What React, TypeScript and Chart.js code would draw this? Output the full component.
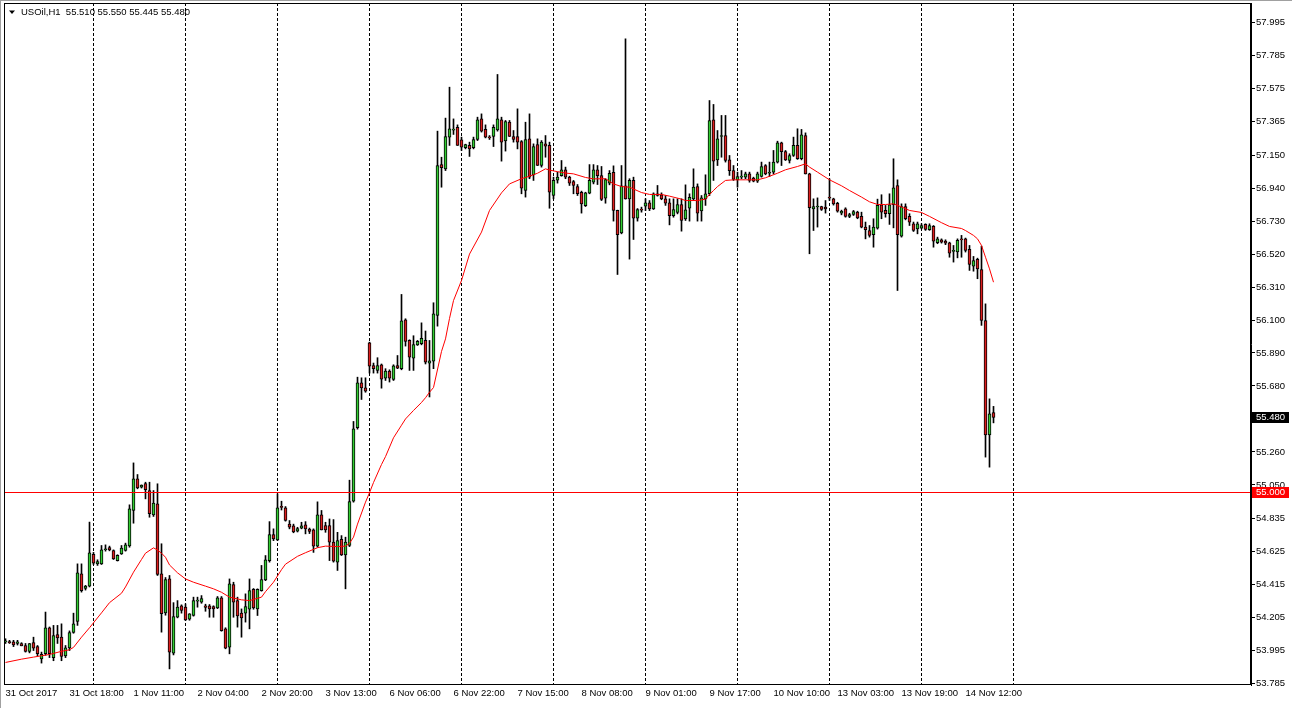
import React, { useEffect, useRef } from "react";
import { Chart, registerables } from "chart.js";
Chart.register(...registerables);

const symbolTitle = "USOil,H1";

const opens = [
  54.05,54.05,54.05,54.04,54.04,54.027,53.99,54.045,54.02,53.942,
  53.975,54.14,53.95,54.097,54.08,53.96,54.012,54.11,54.18,54.483,
  54.39,54.405,54.607,54.547,54.547,54.637,54.651,54.632,54.568,54.611,
  54.632,54.662,54.887,55.089,55.036,55.059,55.014,54.859,54.929,54.484,
  54.235,54.452,53.978,54.207,54.28,54.271,54.194,54.218,54.31,54.303,
  54.28,54.28,54.275,54.267,54.33,54.133,54.016,54.415,54.313,54.233,
  54.233,54.258,54.385,54.26,54.377,54.445,54.568,54.734,54.7,54.91,
  54.904,54.8,54.79,54.755,54.774,54.795,54.768,54.763,54.66,54.859,
  54.791,54.791,54.685,54.558,54.704,54.604,54.664,54.947,55.414,55.70,
  55.668,55.955,55.81,55.779,55.815,55.73,55.775,55.722,55.81,55.79,
  56.102,55.97,55.857,55.942,55.949,55.97,55.826,55.838,56.129,57.09,
  57.063,57.265,57.31,57.328,57.248,57.197,57.212,57.197,57.25,57.381,
  57.314,57.265,57.269,57.311,57.375,57.24,57.36,57.269,57.269,57.237,
  56.925,57.254,57.025,57.218,57.084,57.222,57.212,56.893,56.99,57.02,
  57.057,57.01,56.982,56.95,56.914,56.829,56.908,56.978,57.057,57.02,
  56.876,56.972,57.04,56.798,56.655,56.955,56.872,56.989,56.749,56.802,
  56.825,56.846,56.808,56.904,56.897,56.872,56.846,56.764,56.785,56.836,
  56.744,56.812,56.872,56.95,56.795,56.872,56.904,57.375,57.12,57.269,
  57.275,57.12,57.052,56.993,57.01,57.01,57.031,57.004,56.985,57.014,
  57.084,57.035,57.042,57.106,57.229,57.173,57.116,57.148,57.212,57.127,
  57.275,57.031,56.808,56.82,56.823,56.819,56.878,56.872,56.844,56.781,
  56.808,56.76,56.772,56.787,56.76,56.692,56.67,56.643,56.685,56.834,
  56.798,56.777,56.834,56.957,56.634,56.823,56.76,56.713,56.681,56.685,
  56.709,56.675,56.696,56.592,56.611,56.603,56.592,56.537,56.533,56.617,
  56.617,56.55,56.443,56.486,56.422,56.097,55.369,55.51
];

const highs = [
  54.07,54.06,54.06,54.06,54.045,54.04,54.04,54.08,54.027,53.985,
  54.24,54.145,54.155,54.155,54.165,54.027,54.12,54.233,54.547,54.547,
  54.41,54.813,54.62,54.573,54.664,54.668,54.66,54.636,54.605,54.664,
  54.679,54.923,55.19,55.116,55.05,55.067,55.067,55.014,55.057,54.675,
  54.46,54.473,54.30,54.313,54.286,54.292,54.23,54.335,54.335,54.345,
  54.29,54.288,54.28,54.339,54.339,54.14,54.451,54.43,54.335,54.26,
  54.356,54.451,54.39,54.388,54.537,54.6,54.816,54.77,54.993,54.946,
  54.912,54.823,54.8,54.78,54.812,54.816,54.775,54.77,54.942,54.887,
  54.812,54.833,54.829,54.748,54.727,54.717,55.08,55.454,55.736,55.732,
  55.732,55.959,55.826,55.86,55.82,55.79,55.783,55.815,55.874,56.263,
  56.108,55.974,56.0,55.97,56.082,56.03,55.97,56.21,57.303,57.137,
  57.386,57.583,57.381,57.343,57.265,57.22,57.233,57.265,57.392,57.413,
  57.343,57.275,57.343,57.664,57.392,57.371,57.371,57.307,57.445,57.243,
  57.36,57.413,57.222,57.254,57.243,57.275,57.233,57.01,57.042,57.116,
  57.074,57.016,56.989,56.963,56.921,56.914,57.09,57.09,57.084,57.078,
  57.0,57.052,57.082,56.8,57.084,57.891,57.0,57.01,56.81,56.819,
  56.872,56.861,56.91,56.957,56.91,56.893,56.872,56.872,56.872,56.872,
  56.961,56.904,57.063,56.967,56.893,57.025,57.498,57.473,57.307,57.403,
  57.403,57.148,57.084,57.042,57.052,57.042,57.042,57.01,57.042,57.106,
  57.09,57.106,57.18,57.239,57.233,57.18,57.159,57.265,57.318,57.314,
  57.292,57.035,56.872,56.878,56.825,56.861,56.999,56.876,56.85,56.8,
  56.815,56.78,56.798,56.793,56.787,56.724,56.702,56.745,56.87,56.898,
  56.83,56.904,57.127,56.993,56.84,56.84,56.777,56.724,56.724,56.713,
  56.713,56.713,56.702,56.628,56.617,56.611,56.596,56.575,56.617,56.639,
  56.622,56.575,56.505,56.494,56.571,56.203,55.598,55.55
];

const lows = [
  54.04,54.04,54.02,54.03,54.025,53.985,53.98,53.995,53.96,53.915,
  53.965,53.95,53.93,54.04,53.93,53.95,53.995,54.105,54.155,54.367,
  54.38,54.40,54.543,54.537,54.543,54.628,54.63,54.575,54.565,54.607,
  54.628,54.653,54.806,55.025,55.03,54.961,54.844,54.849,54.473,54.112,
  54.22,53.878,53.967,54.203,54.233,54.186,54.188,54.214,54.271,54.296,
  54.245,54.207,54.207,54.262,54.118,54.006,53.974,54.207,54.144,54.08,
  54.176,54.133,54.258,54.218,54.373,54.44,54.558,54.695,54.695,54.89,
  54.819,54.77,54.745,54.75,54.77,54.738,54.74,54.62,54.653,54.763,
  54.748,54.568,54.558,54.505,54.6,54.388,54.657,54.94,55.405,55.594,
  55.64,55.762,55.762,55.762,55.666,55.715,55.705,55.715,55.79,55.783,
  55.934,55.779,55.779,55.938,55.942,55.82,55.61,55.79,56.061,56.946,
  57.052,57.212,57.282,57.212,57.18,57.19,57.142,57.19,57.243,57.297,
  57.26,57.25,57.205,57.303,57.112,57.176,57.269,57.233,57.19,56.904,
  56.883,57.0,56.989,57.084,57.074,57.137,56.812,56.872,56.972,57.016,
  57.0,56.957,56.904,56.893,56.781,56.823,56.904,56.967,56.963,56.861,
  56.844,56.961,56.73,56.39,56.649,56.87,56.488,56.613,56.73,56.787,
  56.797,56.797,56.804,56.889,56.866,56.83,56.706,56.755,56.776,56.666,
  56.734,56.73,56.861,56.73,56.73,56.83,56.893,56.989,57.084,57.137,
  57.106,57.021,56.989,56.946,57.0,57.0,56.978,56.98,56.976,57.01,
  57.025,57.014,57.031,57.1,57.084,57.116,57.1,57.142,57.123,57.12,
  57.03,56.522,56.67,56.692,56.798,56.781,56.862,56.832,56.787,56.77,
  56.755,56.752,56.766,56.745,56.687,56.617,56.628,56.564,56.679,56.745,
  56.755,56.709,56.687,56.288,56.628,56.738,56.702,56.664,56.649,56.68,
  56.671,56.671,56.564,56.586,56.59,56.58,56.5,56.469,56.496,56.5,
  56.533,56.416,56.411,56.363,56.066,55.227,55.163,55.445
];

const closes = [
  54.05,54.045,54.03,54.05,54.025,53.99,54.04,54.01,53.975,53.97,
  54.14,53.975,54.09,54.076,53.957,54.012,54.11,54.165,54.49,54.377,
  54.405,54.617,54.551,54.562,54.636,54.64,54.636,54.579,54.602,54.647,
  54.668,54.898,55.089,55.031,55.048,55.02,54.866,54.934,54.479,54.229,
  54.447,53.985,54.211,54.271,54.25,54.19,54.228,54.313,54.31,54.326,
  54.27,54.26,54.26,54.33,54.122,54.01,54.42,54.303,54.216,54.203,
  54.275,54.377,54.267,54.385,54.447,54.572,54.734,54.706,54.904,54.907,
  54.823,54.78,54.75,54.772,54.79,54.77,54.753,54.66,54.859,54.763,
  54.763,54.685,54.564,54.695,54.604,54.685,54.944,55.407,55.70,55.668,
  55.647,55.806,55.79,55.81,55.724,55.775,55.73,55.808,55.794,56.095,
  55.964,55.864,55.944,55.964,55.983,55.832,55.84,56.14,57.084,57.07,
  57.269,57.318,57.314,57.212,57.201,57.218,57.19,57.25,57.375,57.303,
  57.265,57.26,57.328,57.381,57.233,57.364,57.269,57.25,57.233,56.94,
  57.25,57.01,57.205,57.084,57.233,57.207,56.914,56.989,57.01,57.057,
  57.01,56.972,56.957,56.904,56.84,56.91,56.989,57.057,57.02,56.868,
  56.995,57.035,56.798,56.643,56.955,56.872,56.989,56.749,56.804,56.80,
  56.846,56.808,56.904,56.893,56.872,56.844,56.764,56.804,56.836,56.734,
  56.802,56.882,56.946,56.781,56.878,56.904,57.371,57.112,57.254,57.27,
  57.116,57.052,56.995,57.014,57.01,57.031,56.989,56.985,57.031,57.078,
  57.031,57.04,57.106,57.229,57.173,57.12,57.148,57.212,57.127,57.28,
  57.031,56.815,56.823,56.82,56.804,56.808,56.876,56.84,56.793,56.793,
  56.76,56.772,56.791,56.751,56.692,56.675,56.639,56.692,56.83,56.787,
  56.777,56.834,56.942,56.643,56.823,56.745,56.724,56.671,56.713,56.702,
  56.677,56.702,56.603,56.617,56.596,56.59,56.526,56.537,56.607,56.611,
  56.543,56.454,56.479,56.426,56.097,55.369,55.503,55.48
];

const maBars = [
  0,4,7,11,14,16,17,19,21,24,26,29,30,32,34,35,37,38,39,40,41,43,45,47,50,52,54,56,59,61,
  64,65,67,69,70,73,75,78,80,83,85,86,87,88,90,91,92,94,95,97,99,100,102,104,105,106,107,
  109,110,111,112,114,116,119,121,124,126,129,131,133,135,136,138,140,142,145,147,150,152,
  154,156,159,161,164,166,169,170,173,175,176,177,178,180,182,185,188,190,193,195,198,200,
  201,203,206,209,211,214,216,218,220,222,224,226,229,231,234,236,239,240,242,243,244,245,246,247
];
const maValues = [
  53.919,53.94,53.953,53.97,53.99,54.0,54.015,54.08,54.14,54.235,54.3,54.36,54.4,54.494,54.575,54.615,54.649,54.635,54.615,54.589,54.54,54.49,54.451,54.43,54.405,54.388,54.366,54.335,54.318,54.313,
  54.335,54.37,54.43,54.51,54.545,54.595,54.618,54.65,54.66,54.657,54.66,54.678,54.717,54.8,54.94,55.0,55.065,55.18,55.23,55.35,55.43,55.47,55.524,55.575,55.605,55.64,55.67,
  55.9,55.98,56.11,56.224,56.352,56.52,56.66,56.798,56.91,56.967,57.0,57.016,57.035,57.063,57.055,57.045,57.036,57.031,57.008,56.999,57.0,56.967,
  56.95,56.946,56.912,56.9,56.9,56.889,56.87,56.861,56.861,56.87,56.9,56.925,56.95,56.989,56.993,56.993,56.993,57.006,57.035,57.057,57.078,57.095,
  57.074,57.042,56.993,56.955,56.925,56.883,56.853,56.836,56.836,56.84,56.82,56.798,56.785,56.76,56.72,56.696,56.683,56.67,56.639,56.617,56.575,56.5,56.426,56.341
];

const labelBars = [0,16,32,48,64,80,96,112,128,144,160,176,192,208,224,240];
const timeLabels = [
  "31 Oct 2017","31 Oct 18:00","1 Nov 11:00","2 Nov 04:00","2 Nov 20:00","3 Nov 13:00",
  "6 Nov 06:00","6 Nov 22:00","7 Nov 15:00","8 Nov 08:00","9 Nov 01:00","9 Nov 17:00",
  "10 Nov 10:00","13 Nov 03:00","13 Nov 19:00","14 Nov 12:00"
];
const separatorBars = [22,45,68,91,114,137,160,183,206,229,252];
const yTickValues = [
  57.995,57.785,57.575,57.365,57.150,56.940,56.730,56.520,56.310,56.100,55.890,
  55.680,55.470,55.260,55.050,54.835,54.625,54.415,54.205,53.995,53.785
];
const levelPrice = 55.0;

const GREEN = "#32cd32";
const RED = "#dc1e1e";
const FONT = '"Liberation Sans", Arial, sans-serif';

const mtPlugin = {
  id: "mtDecor",
  beforeDraw(chart: any) {
    const { ctx, width, height } = chart;
    ctx.save();
    ctx.fillStyle = "#ffffff";
    ctx.fillRect(0, 0, width, height);
    ctx.fillStyle = "#a0a0a0";
    ctx.fillRect(0, 0, width, 1);
    ctx.fillRect(0, 0, 1, height);
    ctx.restore();
  },
  beforeDatasetsDraw(chart: any) {
    const { ctx, chartArea } = chart;
    const x = chart.scales.x;
    ctx.save();
    ctx.strokeStyle = "#000000";
    ctx.lineWidth = 1;
    ctx.setLineDash([3, 2]);
    separatorBars.forEach((b) => {
      const px = Math.floor(x.getPixelForValue(b)) + 0.5;
      if (px < chartArea.left || px > chartArea.right) return;
      ctx.beginPath();
      ctx.moveTo(px, chartArea.top);
      ctx.lineTo(px, chartArea.bottom);
      ctx.stroke();
    });
    ctx.restore();
  },
  afterDatasetsDraw(chart: any) {
    const { ctx, chartArea } = chart;
    const y = chart.scales.y;
    const py = Math.floor(y.getPixelForValue(levelPrice));
    ctx.save();
    ctx.setLineDash([]);
    ctx.fillStyle = "#ff0000";
    ctx.fillRect(chartArea.left, py, chartArea.right - chartArea.left, 1);
    ctx.restore();
  },
  afterDraw(chart: any) {
    const { ctx, chartArea } = chart;
    const y = chart.scales.y;
    ctx.save();
    ctx.setLineDash([]);
    // frame
    ctx.strokeStyle = "#000000";
    ctx.lineWidth = 1;
    ctx.strokeRect(chartArea.left + 0.5, chartArea.top + 0.5, chartArea.right - chartArea.left - 1, chartArea.bottom - chartArea.top - 1);
    // price boxes
    ctx.font = `9.5px ${FONT}`;
    ctx.textBaseline = "middle";
    ctx.textAlign = "left";
    const box = (value: number, bg: string) => {
      const yc = Math.floor(y.getPixelForValue(value));
      ctx.fillStyle = bg;
      ctx.fillRect(chartArea.right + 1, yc - 5, 37, 11);
      ctx.fillStyle = "#ffffff";
      ctx.fillText(value.toFixed(3), chartArea.right + 5, yc + 0.5);
    };
    box(levelPrice, "#ff0000");
    box(closes[closes.length - 1], "#000000");
    // title
    const n = opens.length - 1;
    ctx.fillStyle = "#000000";
    ctx.beginPath();
    ctx.moveTo(chartArea.left + 5, chartArea.top + 7.5);
    ctx.lineTo(chartArea.left + 11, chartArea.top + 7.5);
    ctx.lineTo(chartArea.left + 8, chartArea.top + 11);
    ctx.closePath();
    ctx.fill();
    const title = `${symbolTitle}  ${opens[n].toFixed(3)} ${highs[n].toFixed(3)} ${lows[n].toFixed(3)} ${closes[n].toFixed(3)}`;
    ctx.fillText(title, chartArea.left + 17, chartArea.top + 9.5);
    ctx.restore();
  },
};

export default function App() {
  const ref = useRef<HTMLCanvasElement>(null);
  useEffect(() => {
    document.body.style.margin = "0";
    const idx = opens.map((_, i) => i);
    const wickData = idx.map((i) => ({ x: i, y: [lows[i], highs[i]] }));
    const bodyData = idx.map((i) => ({
      x: i,
      y: [Math.min(opens[i], closes[i]), Math.max(opens[i], closes[i])],
    }));
    const bodyColors = idx.map((i) => (closes[i] >= opens[i] ? GREEN : RED));
    const maData = maBars.map((b, k) => ({ x: b, y: maValues[k] }));

    const pxPerUnit = 661 / (57.995 - 53.785);
    const yMax = 57.995 + 19.5 / pxPerUnit;
    const yMin = yMax - 682 / pxPerUnit;

    const chart = new Chart(ref.current as HTMLCanvasElement, {
      type: "bar",
      data: {
        datasets: [
          {
            type: "line",
            data: maData,
            borderColor: "#ff0000",
            borderWidth: 1,
            pointRadius: 0,
            tension: 0,
            order: 0,
          } as any,
          {
            type: "bar",
            data: bodyData,
            backgroundColor: bodyColors,
            borderColor: "#000000",
            borderWidth: 1,
            borderSkipped: false,
            barThickness: 3,
            minBarLength: 1,
            grouped: false,
            order: 1,
          } as any,
          {
            type: "bar",
            data: wickData,
            backgroundColor: "#000000",
            borderWidth: 0,
            barThickness: 1,
            grouped: false,
            order: 2,
          } as any,
        ],
      },
      options: {
        animation: false,
        responsive: false,
        devicePixelRatio: 1,
        layout: { padding: { left: 4, top: 3, right: 0, bottom: 0 } },
        plugins: { legend: { display: false }, tooltip: { enabled: false } },
        scales: {
          x: {
            type: "linear",
            min: -0.375,
            max: -0.375 + 1247 / 4,
            offset: false,
            grid: { display: false, drawTicks: false },
            border: { display: false },
            ticks: {
              autoSkip: false,
              maxRotation: 0,
              minRotation: 0,
              align: "start",
              padding: 3,
              color: "#000000",
              font: { family: FONT, size: 9.5 },
              callback: (v: any) => {
                const k = labelBars.indexOf(Number(v));
                return k >= 0 ? timeLabels[k] : "";
              },
            },
            afterBuildTicks: (s: any) => {
              s.ticks = labelBars.map((v) => ({ value: v }));
            },
            afterFit: (s: any) => {
              s.height = 23;
              s.paddingLeft = 0;
              s.paddingRight = 0;
            },
          },
          y: {
            type: "linear",
            position: "right",
            min: yMin,
            max: yMax,
            grid: { drawOnChartArea: false, drawTicks: true, tickLength: 4, color: "#000000" },
            border: { display: true, color: "#000000" },
            ticks: {
              autoSkip: false,
              padding: 1,
              color: "#000000",
              font: { family: FONT, size: 9.5 },
              callback: (v: any) => Number(v).toFixed(3),
            },
            afterBuildTicks: (s: any) => {
              s.ticks = yTickValues.map((v) => ({ value: v }));
            },
            afterFit: (s: any) => {
              s.width = 41;
              s.paddingTop = 0;
              s.paddingBottom = 0;
            },
          },
        },
      } as any,
      plugins: [mtPlugin],
    });
    return () => chart.destroy();
  }, []);
  return (
    <canvas
      ref={ref}
      width={1292}
      height={708}
      style={{ display: "block", width: 1292, height: 708 }}
    />
  );
}
